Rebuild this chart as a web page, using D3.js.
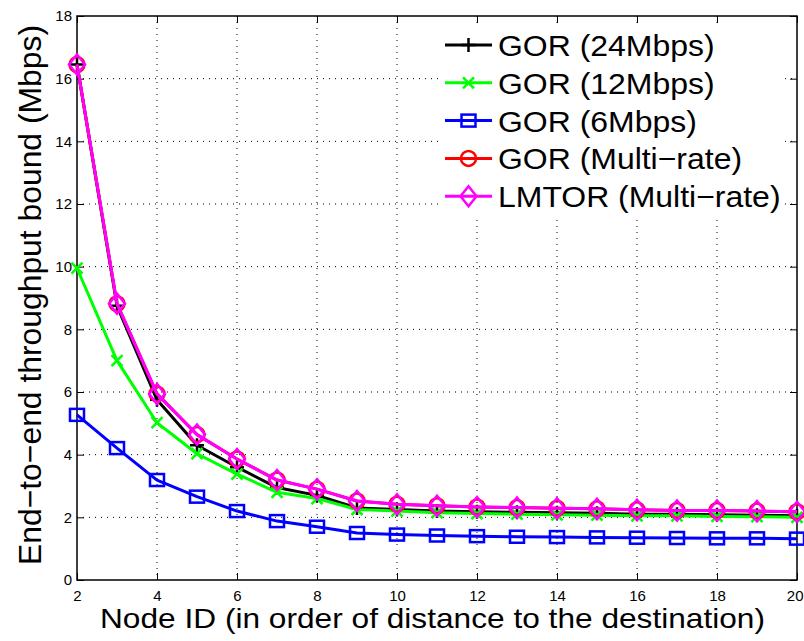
<!DOCTYPE html>
<html>
<head>
<meta charset="utf-8">
<script src="https://cdn.jsdelivr.net/npm/d3@7"></script>
<style>
  body { margin: 0; background: #fff; }
  text { font-family: "Liberation Sans", Arial, sans-serif; }
</style>
</head>
<body>
<div id="chart"></div>
<script>
// node ids along the x axis
const nodes = [2, 3, 4, 5, 6, 7, 8, 9, 10, 11, 12, 13, 14, 15, 16, 17, 18, 19, 20];

// throughput values (Mbps)
const gor24 = [16.45, 8.75, 5.75, 4.3, 3.6, 2.95, 2.7, 2.3, 2.25, 2.2, 2.18, 2.16, 2.15, 2.13, 2.1, 2.1, 2.08, 2.07, 2.05];
const gor12 = [9.95, 7.0, 5.02, 4.03, 3.38, 2.8, 2.6, 2.25, 2.2, 2.15, 2.12, 2.1, 2.08, 2.07, 2.05, 2.05, 2.03, 2.02, 2.0];
const gor6 = [5.27, 4.21, 3.19, 2.66, 2.2, 1.88, 1.7, 1.5, 1.45, 1.42, 1.4, 1.38, 1.37, 1.36, 1.35, 1.34, 1.33, 1.33, 1.32];
const gorMulti = [16.45, 8.82, 5.94, 4.64, 3.86, 3.19, 2.9, 2.52, 2.42, 2.37, 2.33, 2.31, 2.29, 2.27, 2.24, 2.22, 2.22, 2.2, 2.18];
const lmtorMulti = [16.45, 8.82, 5.94, 4.64, 3.86, 3.19, 2.9, 2.52, 2.42, 2.37, 2.33, 2.31, 2.29, 2.27, 2.24, 2.22, 2.22, 2.2, 2.18];

const xTicks = [2, 4, 6, 8, 10, 12, 14, 16, 18, 20];
const yTicks = [0, 2, 4, 6, 8, 10, 12, 14, 16, 18];

const seriesNames = ["GOR (24Mbps)", "GOR (12Mbps)", "GOR (6Mbps)", "GOR (Multi\u2212rate)", "LMTOR (Multi\u2212rate)"];
const seriesValues = [gor24, gor12, gor6, gorMulti, lmtorMulti];
const seriesColors = ["#000000", "#00ff00", "#0000ff", "#ff0000", "#ff00ff"];
const seriesMarkers = ["plus", "cross", "square", "circle", "diamond"];

const W = 804, H = 641;
const margin = { top: 16, right: 7, bottom: 61, left: 77 };
const width = W - margin.left - margin.right,
  height = H - margin.top - margin.bottom;

const svg = d3.select("#chart").append("svg")
  .attr("width", W).attr("height", H);

const g = svg.append("g")
  .attr("transform", "translate(" + margin.left + "," + margin.top + ")");

const x = d3.scaleLinear().domain([2, 20]).range([0, width]);
const y = d3.scaleLinear().domain([0, 18]).range([height, 0]);

// dotted grid
g.selectAll(".vgrid").data(xTicks.slice(1, -1)).enter().append("line")
  .attr("x1", d => x(d)).attr("x2", d => x(d))
  .attr("y1", 0).attr("y2", height)
  .attr("stroke", "#000").attr("stroke-width", 1)
  .attr("stroke-dasharray", "1,5");
g.selectAll(".hgrid").data(yTicks.slice(1, -1)).enter().append("line")
  .attr("y1", d => y(d)).attr("y2", d => y(d))
  .attr("x1", 0).attr("x2", width)
  .attr("stroke", "#000").attr("stroke-width", 1)
  .attr("stroke-dasharray", "1,5");

// matlab-style axes, ticks pointing inwards on all four sides
const tickLen = 7;
g.append("g").attr("class", "xaxis").attr("transform", "translate(0," + height + ")")
  .call(d3.axisBottom(x).tickValues(xTicks).tickSizeInner(-tickLen).tickSizeOuter(0).tickPadding(10))
  .call(a => a.select(".domain").remove());
g.append("g").call(d3.axisTop(x).tickValues(xTicks).tickSizeInner(-tickLen).tickSizeOuter(0).tickFormat(""))
  .call(a => a.select(".domain").remove());
g.append("g")
  .call(d3.axisLeft(y).tickValues(yTicks).tickSizeInner(-tickLen).tickSizeOuter(0).tickPadding(5))
  .call(a => a.select(".domain").remove());
g.append("g").attr("transform", "translate(" + width + ",0)")
  .call(d3.axisRight(y).tickValues(yTicks).tickSizeInner(-tickLen).tickSizeOuter(0).tickFormat(""))
  .call(a => a.select(".domain").remove());
g.selectAll(".tick text").style("font-size", "15px").attr("fill", "#000")
  .style("font-family", "'Liberation Sans', Arial, sans-serif");
g.selectAll(".tick line").attr("stroke", "#000");

// keep the last x label inside the page
g.selectAll(".xaxis .tick text").filter(d => d === 20)
  .attr("text-anchor", "end").attr("dx", 6);

g.append("rect").attr("width", width).attr("height", height)
  .attr("fill", "none").attr("stroke", "#000").attr("stroke-width", 1.5);

// marker drawing
function drawMarker(sel, type, color) {
  const sw = 2.5;
  if (type === "plus") {
    sel.append("path").attr("d", "M-7,0H7M0,-7V7")
      .attr("stroke", color).attr("stroke-width", sw).attr("fill", "none");
  } else if (type === "cross") {
    sel.append("path").attr("d", "M-5.5,-5.5L5.5,5.5M-5.5,5.5L5.5,-5.5")
      .attr("stroke", color).attr("stroke-width", sw).attr("fill", "none");
  } else if (type === "square") {
    sel.append("rect").attr("x", -7).attr("y", -6).attr("width", 14).attr("height", 12)
      .attr("stroke", color).attr("stroke-width", sw).attr("fill", "none");
  } else if (type === "circle") {
    sel.append("circle").attr("r", 7.5)
      .attr("stroke", color).attr("stroke-width", sw).attr("fill", "none");
  } else if (type === "diamond") {
    sel.append("path").attr("d", "M0,-10L8,0L0,10L-8,0Z")
      .attr("stroke", color).attr("stroke-width", sw).attr("fill", "none");
  }
}

const line = d3.line().x(d => x(d[0])).y(d => y(d[1]));

const plot = g.append("g");
seriesValues.forEach((vals, i) => {
  const pts = nodes.map((n, j) => [n, vals[j]]);
  plot.append("path").datum(pts)
    .attr("d", line)
    .attr("fill", "none")
    .attr("stroke", seriesColors[i])
    .attr("stroke-width", 3)
    .attr("stroke-linejoin", "round");
  plot.selectAll(".m" + i).data(pts).enter().append("g")
    .attr("class", "m" + i)
    .attr("transform", d => "translate(" + x(d[0]) + "," + y(d[1]) + ")")
    .each(function () { drawMarker(d3.select(this), seriesMarkers[i], seriesColors[i]); });
});

// legend
const legend = svg.append("g").attr("transform", "translate(440,26)");
legend.append("rect").attr("x", 0).attr("y", 0).attr("width", 345).attr("height", 192)
  .attr("fill", "#fff");
seriesNames.forEach((name, i) => {
  const row = legend.append("g").attr("transform", "translate(0," + (19 + i * 37.8) + ")");
  row.append("line").attr("x1", 5).attr("x2", 52).attr("y1", 0).attr("y2", 0)
    .attr("stroke", seriesColors[i]).attr("stroke-width", 3);
  const mk = row.append("g").attr("transform", "translate(28.5,0)");
  drawMarker(mk, seriesMarkers[i], seriesColors[i]);
  row.append("text")
    .attr("transform", "translate(58,11) scale(1.065,1)")
    .style("font-size", "30px").text(name);
});

// axis labels
svg.append("text")
  .attr("x", 100).attr("y", 628)
  .attr("textLength", 665).attr("lengthAdjust", "spacingAndGlyphs")
  .style("font-size", "28px")
  .text("Node ID (in order of distance to the destination)");

svg.append("text")
  .attr("transform", "translate(41,565) rotate(-90)")
  .attr("textLength", 540).attr("lengthAdjust", "spacingAndGlyphs")
  .style("font-size", "32px")
  .text("End\u2212to\u2212end throughput bound (Mbps)");
</script>
</body>
</html>
